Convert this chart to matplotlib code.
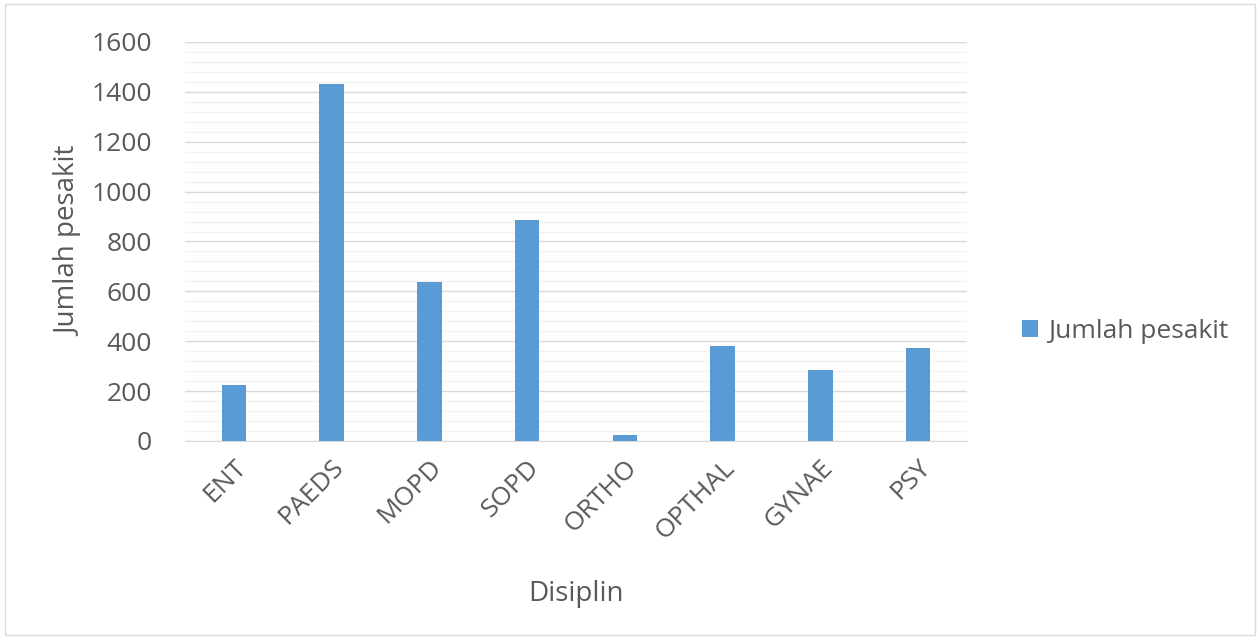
import matplotlib.pyplot as plt
from matplotlib.patches import Rectangle

plt.rcParams['font.family'] = ['Open Sans', 'DejaVu Sans']

disiplin = ["ENT", "PAEDS", "MOPD", "SOPD", "ORTHO", "OPTHAL", "GYNAE", "PSY"]
jumlah = [224, 1430, 638, 886, 24, 381, 285, 373]

fig = plt.figure(figsize=(12.6, 6.39), dpi=100)
ax = fig.add_axes([0.1468, 0.3099, 0.6207, 0.6244])

x = range(len(disiplin))
ax.bar(x, jumlah, width=0.25, color='#5b9bd5', label='Jumlah pesakit', zorder=3)

ax.set_ylim(0, 1600)
ax.set_xlim(-0.5, len(disiplin) - 0.5)
ax.set_yticks(range(0, 1601, 200))
ax.set_yticks(range(0, 1601, 40), minor=True)
ax.grid(axis='y', which='major', color='#d9d9d9', linewidth=1, zorder=0)
ax.grid(axis='y', which='minor', color='#f2f2f2', linewidth=1, zorder=0)
ax.set_xticks(list(x))
ax.set_xticklabels(disiplin, rotation=45, ha='right', rotation_mode='anchor')
ax.tick_params(axis='both', which='both', length=0, labelsize=19, colors='#595959')
ax.tick_params(axis='y', pad=24)
ax.tick_params(axis='x', pad=10)

for s in ['top', 'right', 'left']:
    ax.spines[s].set_visible(False)
ax.spines['bottom'].set_color('#d9d9d9')

ax.set_ylabel('Jumlah pesakit', fontsize=20, color='#595959', labelpad=6)
ax.set_xlabel('Disiplin', fontsize=20, color='#595959', labelpad=26)

fig.legend(loc='center left', bbox_to_anchor=(0.792, 0.482), frameon=False,
           fontsize=19, labelcolor='#595959', handlelength=0.6, handleheight=0.6,
           handletextpad=0.4)

fig.patches.append(Rectangle((0.004, 0.006), 0.992, 0.988, transform=fig.transFigure,
                             fill=False, edgecolor='#d9d9d9', linewidth=1))

fig.savefig('out.png', dpi=100)
